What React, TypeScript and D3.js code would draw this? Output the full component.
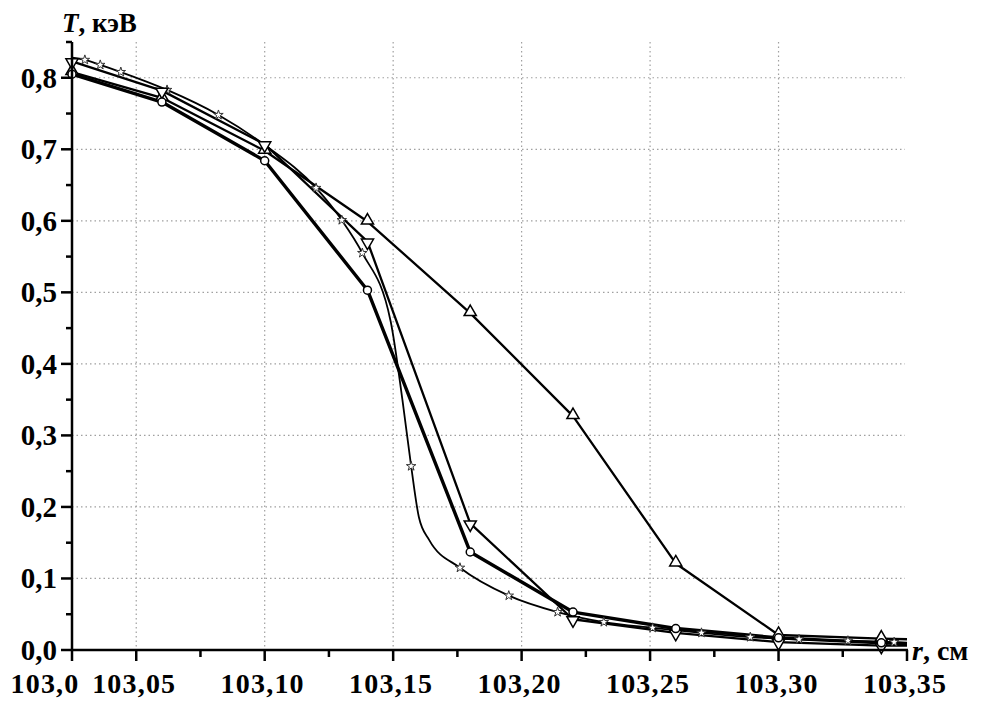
import React from 'react';
import * as d3 from 'd3';

// common r grid for the three coarse series
const rNodes = [103.025, 103.06, 103.10, 103.14, 103.18, 103.22, 103.26, 103.30, 103.34, 103.35];
const tCircle = [0.805, 0.766, 0.684, 0.503, 0.137, 0.053, 0.030, 0.017, 0.010, 0.009];
const tTriUp = [0.808, 0.772, 0.698, 0.599, 0.471, 0.327, 0.121, 0.021, 0.016, 0.015];
const tTriDown = [0.823, 0.782, 0.707, 0.571, 0.177, 0.043, 0.024, 0.011, 0.006, 0.006];

// fine series with stars
const starR = [103.025, 103.030, 103.036, 103.044, 103.062, 103.082, 103.100, 103.120, 103.130, 103.138,
  103.149, 103.1536, 103.157, 103.160, 103.164, 103.176, 103.195, 103.214, 103.232, 103.251,
  103.270, 103.289, 103.308, 103.327, 103.345, 103.35];
const starT = [0.828, 0.825, 0.818, 0.808, 0.783, 0.748, 0.706, 0.646, 0.601, 0.555,
  0.46, 0.35, 0.257, 0.186, 0.154, 0.115, 0.076, 0.053, 0.039, 0.031,
  0.024, 0.018, 0.015, 0.013, 0.011, 0.010];
const starMarked = [0, 1, 1, 1, 1, 1, 0, 1, 1, 1, 0, 0, 1, 0, 0, 1, 1, 1, 1, 1, 1, 1, 1, 1, 1, 0];

const xTicks = [103.025, 103.05, 103.10, 103.15, 103.20, 103.25, 103.30, 103.35];
const xTickLabels = ['103,0', '103,05', '103,10', '103,15', '103,20', '103,25', '103,30', '103,35'];
const xMinor = [103.075, 103.125, 103.175, 103.225, 103.275, 103.325];
const xGrid = [103.05, 103.10, 103.15, 103.20, 103.25, 103.30];
const yTicks = [0, 0.1, 0.2, 0.3, 0.4, 0.5, 0.6, 0.7, 0.8];
const yTickLabels = ['0,0', '0,1', '0,2', '0,3', '0,4', '0,5', '0,6', '0,7', '0,8'];
const yMinor = [0.05, 0.15, 0.25, 0.35, 0.45, 0.55, 0.65, 0.75, 0.85];

const W = 983;
const H = 702;
const font = '"Liberation Serif", "DejaVu Serif", serif';

export default function App() {
  const x = d3.scaleLinear().domain([103.025, 103.35]).range([72, 907]);
  const y = d3.scaleLinear().domain([0, 0.85]).range([650, 42]);

  const lin = d3.line<number>().x((d, i) => x(rNodes[i])).y((d) => y(d));
  const starLine = d3.line<number>().x((d, i) => x(starR[i])).y((d) => y(d)).curve(d3.curveMonotoneX);

  const triUp = d3.symbol().type(d3.symbolTriangle).size(64)()!;
  const star = d3.symbol().type(d3.symbolStar).size(28)()!;
  const triDown = triUp;

  const markIdx = rNodes.slice(0, rNodes.length - 1).map((_, i) => i);

  return (
    <svg width={W} height={H} style={{ position: 'absolute', left: 0, top: 0, background: '#fff' }}>
      {/* grid */}
      <g stroke="#a0a0a0" strokeWidth={1.2} strokeDasharray="1.5,3">
        {xGrid.map((v) => (
          <line key={'gx' + v} x1={x(v)} x2={x(v)} y1={42} y2={650} />
        ))}
        {yTicks.slice(1).map((v) => (
          <line key={'gy' + v} x1={72} x2={905} y1={y(v)} y2={y(v)} />
        ))}
      </g>

      {/* series lines */}
      <g fill="none" stroke="#000" strokeLinejoin="round">
        <path d={lin(tTriUp)!} strokeWidth={2.3} />
        <path d={lin(tTriDown)!} strokeWidth={2.3} />
        <path d={starLine(starT)!} strokeWidth={1.8} />
        <path d={lin(tCircle)!} strokeWidth={3.4} />
      </g>

      {/* markers */}
      <g fill="#fff" stroke="#000" strokeWidth={1.5}>
        {starT.map((t, i) =>
          starMarked[i] ? (
            <path key={'s' + i} d={star} transform={`translate(${x(starR[i])},${y(t)})`} strokeWidth={1} stroke="#333" />
          ) : null
        )}
        {markIdx.map((i) => (
          <path key={'u' + i} d={triUp} transform={`translate(${x(rNodes[i])},${y(tTriUp[i]) - 1})`} />
        ))}
        {markIdx.map((i) => (
          <path key={'d' + i} d={triDown} transform={`translate(${x(rNodes[i])},${y(tTriDown[i]) + 1}) rotate(180)`} />
        ))}
        {markIdx.map((i) => (
          <circle key={'c' + i} cx={x(rNodes[i])} cy={y(tCircle[i])} r={4} />
        ))}
      </g>

      {/* axes */}
      <g stroke="#000" strokeWidth={2.5} fill="none">
        <line x1={72} x2={72} y1={42} y2={651} />
        <line x1={71} x2={908} y1={650} y2={650} />
        {yTicks.map((v) => (
          <line key={'yt' + v} x1={61} x2={72} y1={y(v)} y2={y(v)} />
        ))}
        {yMinor.map((v) => (
          <line key={'ym' + v} x1={66} x2={72} y1={y(v)} y2={y(v)} />
        ))}
        {xTicks.map((v) => (
          <line key={'xt' + v} x1={x(v)} x2={x(v)} y1={650} y2={661} />
        ))}
        {xMinor.map((v) => (
          <line key={'xm' + v} x1={x(v)} x2={x(v)} y1={650} y2={657} />
        ))}
      </g>

      {/* tick labels */}
      <g fontFamily={font} fontWeight="bold" fontSize={29} fill="#000">
        {yTicks.map((v, i) => (
          <text key={'yl' + v} x={57} y={y(v) + 10} textAnchor="end">
            {yTickLabels[i]}
          </text>
        ))}
      </g>
      <g fontFamily={font} fontWeight="bold" fontSize={28} letterSpacing={1.2} fill="#000">
        {xTicks.map((v, i) => (
          <text key={'xl' + v} x={i === 0 ? 45 : x(v) - 2} y={693} textAnchor="middle">
            {xTickLabels[i]}
          </text>
        ))}
      </g>

      {/* axis titles */}
      <text x={62} y={32} fontFamily={font} fontWeight="bold" fontSize={27}>
        <tspan fontStyle="italic">T</tspan>, кэВ
      </text>
      <text x={912} y={660} fontFamily={font} fontWeight="bold" fontSize={28}>
        <tspan fontStyle="italic">r</tspan>, см
      </text>
    </svg>
  );
}
